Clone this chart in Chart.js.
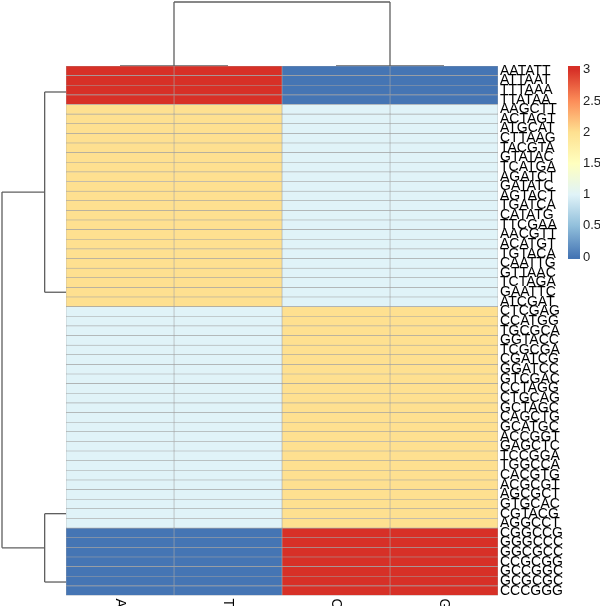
<!DOCTYPE html>
<html>
<head>
<meta charset="utf-8">
<script src="https://cdn.jsdelivr.net/npm/chart.js@4.4.1/dist/chart.umd.min.js"></script>
<style>
  html, body { margin: 0; padding: 0; background: #fff; overflow: hidden; }
  #wrap { position: relative; width: 600px; height: 606px; }
  canvas { position: absolute; left: 0; top: 0; }
</style>
</head>
<body>
<div id="wrap">
  <canvas id="heat" width="600" height="606"></canvas>
  <canvas id="dendLeft" width="600" height="606"></canvas>
  <canvas id="dendTop" width="600" height="606"></canvas>
  <canvas id="legend" width="600" height="606"></canvas>
</div>
<script>
// ---------------- data ----------------
const colLabels = ["A", "T", "C", "G"];
const rowLabels = [
  "AATATT","ATTAAT","TTTAAA","TTATAA",
  "AAGCTT","ACTAGT","ATGCAT","CTTAAG","TACGTA","GTATAC","TCATGA","AGATCT","GATATC","AGTACT",
  "TGATCA","CATATG","TTCGAA","AACGTT","ACATGT","TGTACA","CAATTG","GTTAAC","TCTAGA","GAATTC","ATCGAT",
  "CTCGAG","CCATGG","TGCGCA","GGTACC","TCGCGA","CGATCG","GGATCC","GTCGAC","CCTAGG","CTGCAG",
  "GCTAGC","CAGCTG","GCATGC","ACCGGT","GAGCTC","TCCGGA","TGGCCA","CACGTG","ACGCGT","AGCGCT",
  "GTGCAC","CGTACG","AGGCCT",
  "CGGCCG","GGGCCC","GGCGCC","CCGCGG","GCCGGC","GCGCGC","CCCGGG"
];
const valuesA = [
  3,3,3,3,
  2,2,2,2,2,2,2,2,2,2, 2,2,2,2,2,2,2,2,2,2,2,
  1,1,1,1,1,1,1,1,1,1, 1,1,1,1,1,1,1,1,1,1, 1,1,1,
  0,0,0,0,0,0,0
];
const valuesT = [
  3,3,3,3,
  2,2,2,2,2,2,2,2,2,2, 2,2,2,2,2,2,2,2,2,2,2,
  1,1,1,1,1,1,1,1,1,1, 1,1,1,1,1,1,1,1,1,1, 1,1,1,
  0,0,0,0,0,0,0
];
const valuesC = [
  0,0,0,0,
  1,1,1,1,1,1,1,1,1,1, 1,1,1,1,1,1,1,1,1,1,1,
  2,2,2,2,2,2,2,2,2,2, 2,2,2,2,2,2,2,2,2,2, 2,2,2,
  3,3,3,3,3,3,3
];
const valuesG = [
  0,0,0,0,
  1,1,1,1,1,1,1,1,1,1, 1,1,1,1,1,1,1,1,1,1,1,
  2,2,2,2,2,2,2,2,2,2, 2,2,2,2,2,2,2,2,2,2, 2,2,2,
  3,3,3,3,3,3,3
];
const legendTicks = [0, 0.5, 1, 1.5, 2, 2.5, 3];

// dendrogram data (positions in leaf units, heights in distance units)
const rowGroupPos = [2.7, 23.5, 46.5, 53.6];
const rowMergeHeights = [2, 2, 6];       // (g1,g2), (g3,g4), root
const colGroupPos = [1, 3];               // (A,T) node, (C,G) node
const colLeafPos = [0.5, 1.5, 2.5, 3.5];
const colMergeHeights = [0, 0, 11.96];    // (A,T), (C,G), root

// ---------------- helpers ----------------
const palette = ["#4575B4","#91BFDB","#E0F3F8","#FFFFBF","#FEE090","#FC8D59","#D73027"];
const vMin = 0, vMax = 3;
function hex2rgb(h){ return [parseInt(h.substr(1,2),16), parseInt(h.substr(3,2),16), parseInt(h.substr(5,2),16)]; }
function colorFor(v){
  const t = Math.max(0, Math.min(1, (v - vMin) / (vMax - vMin))) * (palette.length - 1);
  const i = Math.min(palette.length - 2, Math.floor(t));
  const f = t - i;
  const a = hex2rgb(palette[i]), b = hex2rgb(palette[i+1]);
  const c = a.map((x, k) => Math.round(x + (b[k] - x) * f));
  return `rgb(${c[0]},${c[1]},${c[2]})`;
}
const FONT = "'Liberation Sans', Arial, sans-serif";
const LINE = "#5f5f5f";
const LW = 1.3;

const AREA = { left: 66, right: 498, top: 66, bottom: 595.5 };
const W = 600, H = 606;

// ---------------- heatmap ----------------
const colValues = [valuesA, valuesT, valuesC, valuesG];
const heatDatasets = colValues.map((vals, ci) => ({
  label: colLabels[ci],
  data: rowLabels.map(() => [ci, ci + 1]),
  backgroundColor: vals.map(colorFor),
  borderColor: "#a3a3a3",
  borderWidth: 0.6,
  borderSkipped: false,
  grouped: false,
  categoryPercentage: 1,
  barPercentage: 1
}));

const colLabelPlugin = {
  id: "colLabels",
  afterDraw(chart) {
    const ctx = chart.ctx;
    const xs = chart.scales.x;
    ctx.save();
    ctx.fillStyle = "#000";
    ctx.font = `14px ${FONT}`;
    ctx.textAlign = "left";
    ctx.textBaseline = "middle";
    colLabels.forEach((lab, i) => {
      const x = xs.getPixelForValue(i + 0.5);
      ctx.save();
      ctx.translate(x, chart.chartArea.bottom + 3);
      ctx.rotate(Math.PI / 2);
      ctx.fillText(lab, 0, 0);
      ctx.restore();
    });
    ctx.restore();
  }
};

new Chart(document.getElementById("heat"), {
  type: "bar",
  data: { labels: rowLabels, datasets: heatDatasets },
  options: {
    responsive: false,
    animation: false,
    indexAxis: "y",
    layout: { padding: { left: AREA.left, top: AREA.top, right: 0, bottom: H - AREA.bottom } },
    plugins: { legend: { display: false }, tooltip: { enabled: false } },
    scales: {
      x: { type: "linear", min: 0, max: 4, display: false },
      y: {
        type: "category",
        position: "right",
        offset: true,
        grid: { display: false, drawTicks: false },
        border: { display: false },
        afterFit(scale) { scale.width = W - AREA.right; },
        ticks: { autoSkip: false, color: "#000", font: { size: 14, family: FONT }, padding: 2 }
      }
    }
  },
  plugins: [colLabelPlugin]
});

// ---------------- dendrograms ----------------
function seg(x1, y1, x2, y2, clip) {
  return { data: [{x: x1, y: y1}, {x: x2, y: y2}], showLine: true, pointRadius: 0,
           borderColor: LINE, borderWidth: LW, clip: clip, fill: false };
}
// left (row) dendrogram: x = height, y = row position
const leftSegs = [];
(function(){
  const p = rowGroupPos, h = rowMergeHeights;
  const pA = (p[0] + p[1]) / 2, pB = (p[2] + p[3]) / 2;
  leftSegs.push(seg(0, p[0], h[0], p[0], false), seg(0, p[1], h[0], p[1], false), seg(h[0], p[0], h[0], p[1], false));
  leftSegs.push(seg(0, p[2], h[1], p[2], false), seg(0, p[3], h[1], p[3], false), seg(h[1], p[2], h[1], p[3], false));
  leftSegs.push(seg(h[0], pA, h[2], pA, false), seg(h[1], pB, h[2], pB, false), seg(h[2], pA, h[2], pB, false));
})();
const rootRowH = rowMergeHeights[2];
new Chart(document.getElementById("dendLeft"), {
  type: "scatter",
  data: { datasets: leftSegs },
  options: {
    responsive: false, animation: false,
    layout: { padding: { left: 2, right: W - AREA.left, top: AREA.top, bottom: H - AREA.bottom } },
    plugins: { legend: { display: false }, tooltip: { enabled: false } },
    scales: {
      x: { type: "linear", min: 0, max: rootRowH, reverse: true, display: false },
      y: { type: "linear", min: 0, max: rowLabels.length, reverse: true, display: false }
    }
  }
});

// top (column) dendrogram: x = column position, y = height
const topSegs = [];
(function(){
  const l = colLeafPos, h = colMergeHeights, p = colGroupPos;
  topSegs.push(seg(l[0], h[0], l[1], h[0], 0), seg(l[2], h[1], l[3], h[1], 0));
  topSegs.push(seg(p[0], h[0], p[0], h[2], false), seg(p[1], h[1], p[1], h[2], false), seg(p[0], h[2], p[1], h[2], false));
})();
new Chart(document.getElementById("dendTop"), {
  type: "scatter",
  data: { datasets: topSegs },
  options: {
    responsive: false, animation: false,
    layout: { padding: { left: AREA.left, right: W - AREA.right, top: 2, bottom: H - AREA.top } },
    plugins: { legend: { display: false }, tooltip: { enabled: false } },
    scales: {
      x: { type: "linear", min: 0, max: colLabels.length, display: false },
      y: { type: "linear", min: 0, max: colMergeHeights[2], display: false }
    }
  }
});

// ---------------- colour legend ----------------
const LEG = { left: 568, right: 580, top: 66, bottom: 259 };
const legMin = -0.03, legMax = 3.06;
new Chart(document.getElementById("legend"), {
  type: "bar",
  data: {
    labels: [""],
    datasets: [{
      data: [[legMin, legMax]],
      categoryPercentage: 1, barPercentage: 1, borderWidth: 0,
      backgroundColor(ctx) {
        const chart = ctx.chart;
        if (!chart.chartArea) return palette[0];
        const ys = chart.scales.y;
        const g = chart.ctx.createLinearGradient(0, ys.getPixelForValue(vMin), 0, ys.getPixelForValue(vMax));
        palette.forEach((c, i) => g.addColorStop(i / (palette.length - 1), c));
        return g;
      }
    }]
  },
  options: {
    responsive: false, animation: false,
    layout: { padding: { left: LEG.left, right: 0, top: LEG.top, bottom: H - LEG.bottom } },
    plugins: { legend: { display: false }, tooltip: { enabled: false } },
    scales: {
      x: { display: false },
      y: {
        type: "linear", position: "right", min: legMin, max: legMax,
        grid: { display: false, drawTicks: false }, border: { display: false },
        afterFit(scale) { scale.width = W - LEG.right; },
        afterBuildTicks(scale) { scale.ticks = legendTicks.map(v => ({ value: v })); },
        ticks: { color: "#222", font: { size: 13, family: FONT }, padding: 3,
                 callback: (v) => String(v) }
      }
    }
  }
});
</script>
</body>
</html>
